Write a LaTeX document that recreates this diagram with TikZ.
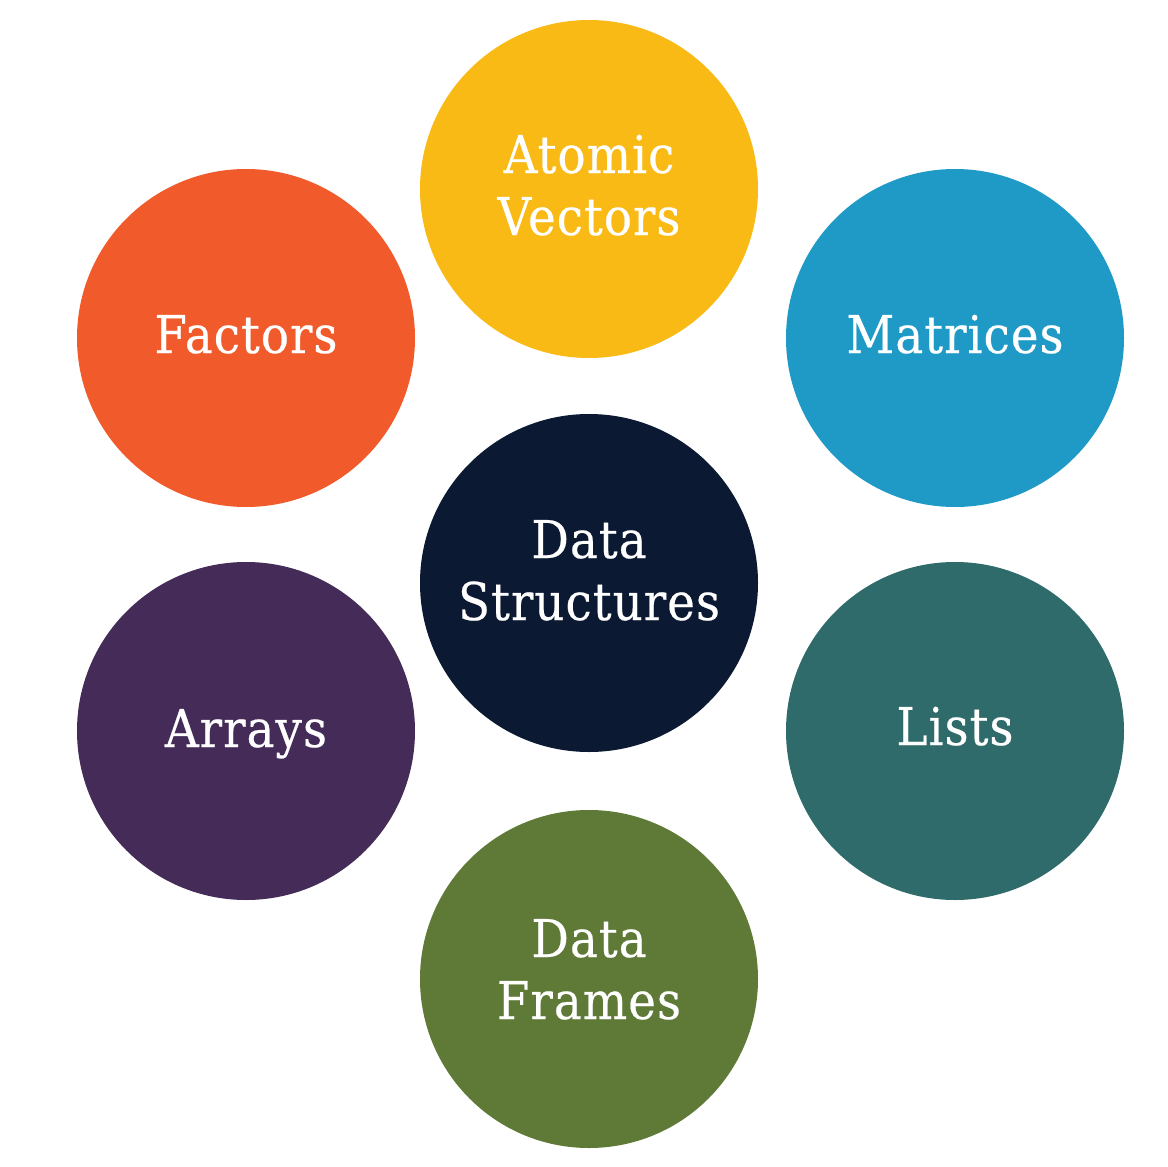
\documentclass[tikz,border=0pt]{standalone}
\usepackage{fontspec}
\setmainfont{DejaVu Serif}[FakeStretch=0.9, FakeBold=0.4, LetterSpace=2]
\definecolor{cAtomic}{HTML}{F9BA16}
\definecolor{cFactors}{HTML}{F15A2A}
\definecolor{cMatrices}{HTML}{1F9AC7}
\definecolor{cCore}{HTML}{0B1A32}
\definecolor{cArrays}{HTML}{452B57}
\definecolor{cLists}{HTML}{2E6B6A}
\definecolor{cFrames}{HTML}{5E7A36}
\tikzset{
  blob/.style={circle, minimum size=338pt, inner sep=0pt, draw=none},
  word/.style={text=white, anchor=base, inner sep=0pt, font=\fontsize{52}{62}\selectfont},
}
\begin{document}
\begin{tikzpicture}[x=1pt,y=-1pt]
\useasboundingbox (0,0) rectangle (1168,1167);
% circles
\node[blob, fill=cAtomic]   (atomic)  at (589,189) {};
\node[blob, fill=cFactors]  (factors) at (246,338) {};
\node[blob, fill=cMatrices] (matrices) at (955,338) {};
\node[blob, fill=cCore]     (core)    at (589,583) {};
\node[blob, fill=cArrays]   (arrays)  at (246,731) {};
\node[blob, fill=cLists]    (lists)   at (955,731) {};
\node[blob, fill=cFrames]   (frames)  at (589,979) {};
% labels
\node[word] (atomicA) at (589,173) {Atomic};
\node[word] (atomicB) at (589,235) {Vectors};
\node[word] (factorsT) at (246,353) {Factors};
\node[word] (matricesT) at (955,353) {Matrices};
\node[word] (coreA) at (589,558) {Data};
\node[word] (coreB) at (589,620) {Structures};
\node[word] (arraysT) at (246,747) {Arrays};
\node[word] (listsT) at (955,745) {Lists};
\node[word] (framesA) at (589,957) {Data};
\node[word] (framesB) at (589,1019) {Frames};
\end{tikzpicture}
\end{document}
